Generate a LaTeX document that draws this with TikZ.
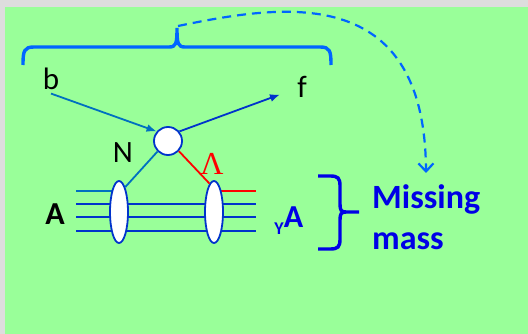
\documentclass[tikz,border=0pt]{standalone}
\usepackage{fontspec}
\setmainfont{Carlito}
\newfontfamily\lamfont{Liberation Serif}
\usetikzlibrary{arrows.meta,shapes.geometric}
\definecolor{bggray}{RGB}{221,221,221}
\definecolor{bggreen}{RGB}{153,255,153}
\definecolor{braceblue}{RGB}{0,102,255}
\definecolor{lineblue}{RGB}{0,112,192}
\definecolor{darkblue}{RGB}{0,51,204}
\definecolor{textblue}{RGB}{0,0,230}
\begin{document}
\begin{tikzpicture}[x=1pt,y=-1pt,
  lbl/.style={inner sep=0pt,text=black,font=\fontsize{31}{31}\selectfont},
  boldlbl/.style={inner sep=0pt,font=\fontsize{32}{32}\selectfont\bfseries},
  mmlbl/.style={inner sep=0pt,text=textblue,font=\fontsize{34}{34}\selectfont\bfseries,anchor=base west},
  hline/.style={line width=2.6pt,darkblue},
  vertex/.style={circle,draw=darkblue,fill=white,line width=1.8pt,minimum size=28pt,inner sep=0pt},
  blob/.style={ellipse,draw=darkblue,fill=white,line width=1.8pt,minimum width=18pt,minimum height=62pt,inner sep=0pt},
  prop/.style={line width=1.8pt},
  tip/.style={-{Latex[length=10pt,width=8pt]}},
  topbrace/.style={braceblue,line width=3.4pt},
  sidebrace/.style={textblue,line width=3.4pt},
  dasharrow/.style={braceblue,line width=2.2pt,dash pattern=on 9pt off 6pt,-{Straight Barb[length=8pt,width=15pt,line width=2.2pt]}}
]
\useasboundingbox (0,0) rectangle (528,334);
\fill[bggray] (0,0) rectangle (528,334);
\fill[bggreen] (5,7) rectangle (528,334);

% top brace
\draw[topbrace] (23,65) .. controls (23,51) and (24,47) .. (34,47) -- (169,47)
  .. controls (176,47) and (177,44) .. (177,28)
  .. controls (177,44) and (178,47) .. (185,47) -- (320,47)
  .. controls (330,47) and (331,51) .. (331,65);
\coordinate (bracetop) at (178,26);
\coordinate (mmtip) at (426,173);
\draw[dasharrow] (bracetop) .. controls (280,5) and (425,-20) .. (mmtip);

% labels
\node[lbl] (b) at (51,78.5) {b};
\node[lbl] (f) at (302,86.5) {f};
\node[lbl] (N) at (123,153) {N};
\node[inner sep=0pt,text=red,font=\fontsize{32}{32}\lamfont] (lam) at (212,163.5) {Λ};
\node[boldlbl,text=black] (A) at (55,214.5) {A};
\node[inner sep=0pt,text=textblue,font=\fontsize{18}{18}\selectfont\bfseries] (Y) at (279,229) {Y};
\node[boldlbl,text=textblue] (YA) at (293.5,217) {A};
\node[mmlbl] (miss) at (372,209) {Missing};
\node[mmlbl] (mass) at (372,250) {mass};

% nucleus lines
\coordinate (l1) at (76,191);
\coordinate (l2) at (76,204);
\coordinate (l3) at (76,217);
\coordinate (l4) at (76,231);
\coordinate (r1) at (256,191);
\coordinate (r2) at (256,204);
\coordinate (r3) at (256,217);
\coordinate (r4) at (256,231);
\coordinate (m1a) at (119,191);
\coordinate (m1b) at (214,191);
\draw[hline,lineblue] (l1) -- (m1a);
\draw[hline,red] (m1b) -- (r1);
\draw[hline] (l2) -- (r2);
\draw[hline] (l3) -- (r3);
\draw[hline] (l4) -- (r4);

\node[blob] (e1) at (119,212) {};
\node[blob] (e2) at (214,212) {};
\node[vertex] (v) at (168,141) {};

\draw[prop,lineblue] (v.225) -- (e1.76);
\draw[prop,red] (v.317) -- (e2.99);
\draw[prop,lineblue,tip] ([yshift=-4pt]b.south) -- (v.140);
\draw[prop,darkblue,tip] (v.40) -- ([xshift=-22pt,yshift=-8pt]f.center);

% right brace
\draw[sidebrace] (318,176) -- (330,176) .. controls (338,176) and (340,178) .. (340,186)
  -- (340,204) .. controls (340,210) and (341,212) .. (346,212) -- (359,212);
\draw[sidebrace] (346,212) .. controls (341,212) and (340,214) .. (340,220)
  -- (340,239) .. controls (340,247) and (338,249) .. (330,249) -- (318,249);
\end{tikzpicture}
\end{document}
